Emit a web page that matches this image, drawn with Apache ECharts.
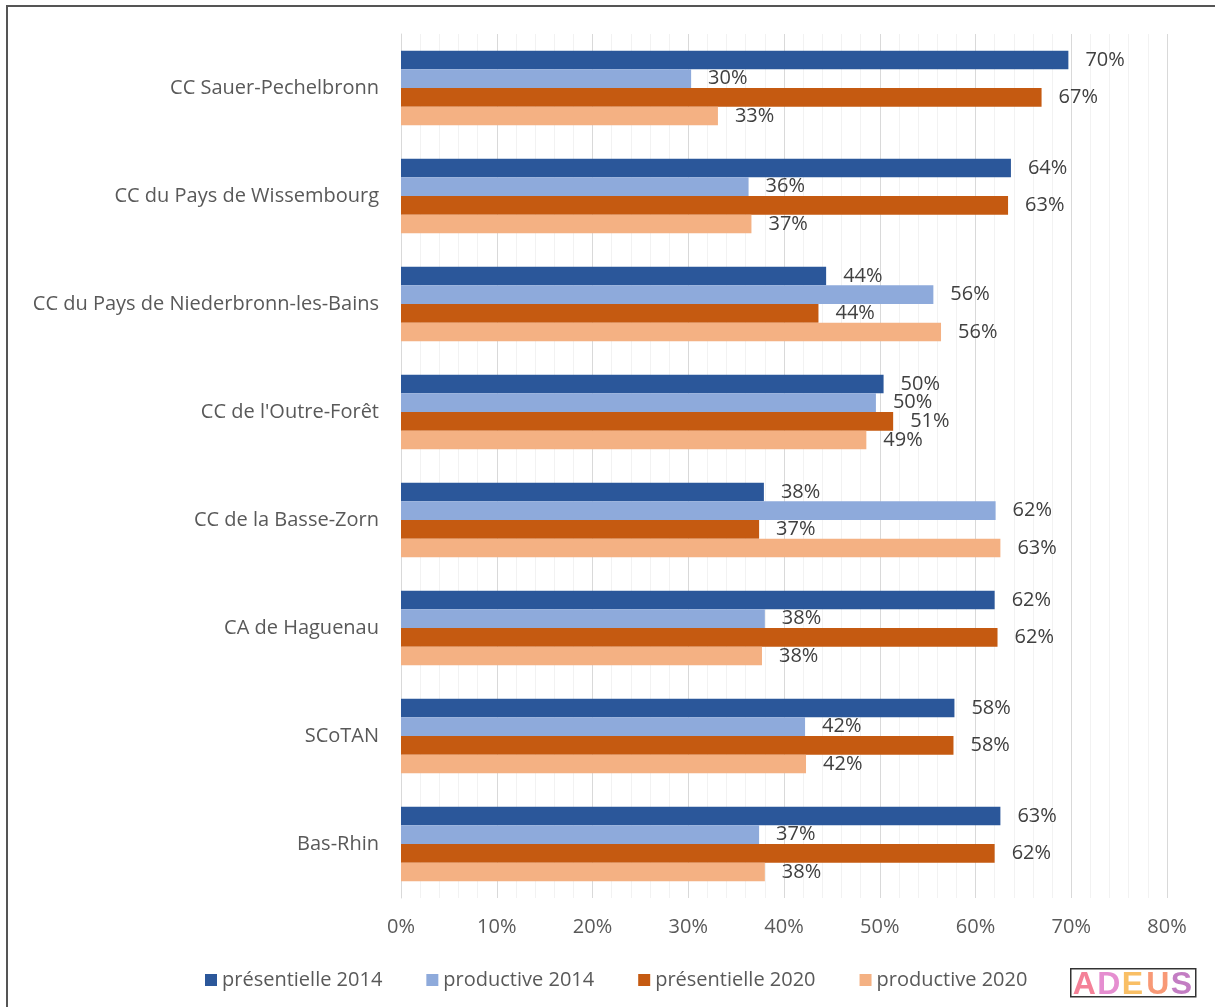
<!DOCTYPE html>
<html>
<head>
<meta charset="utf-8">
<script src="https://cdn.jsdelivr.net/npm/echarts@6/dist/echarts.min.js"></script>
<style>
  html, body { margin: 0; padding: 0; background: #fff; }
  #chart { width: 1215px; height: 1007px; }
</style>
</head>
<body>
<div id="chart"></div>
<script>
const categories = [
  "CC Sauer-Pechelbronn",
  "CC du Pays de Wissembourg",
  "CC du Pays de Niederbronn-les-Bains",
  "CC de l'Outre-Forêt",
  "CC de la Basse-Zorn",
  "CA de Haguenau",
  "SCoTAN",
  "Bas-Rhin"
];
const seriesNames = ["présentielle 2014", "productive 2014", "présentielle 2020", "productive 2020"];
const presentielle2014 = [69.7, 63.7, 44.4, 50.4, 37.9, 62.0, 57.8, 62.6];
const productive2014   = [30.3, 36.3, 55.6, 49.6, 62.1, 38.0, 42.2, 37.4];
const presentielle2020 = [66.9, 63.4, 43.6, 51.4, 37.4, 62.3, 57.7, 62.0];
const productive2020   = [33.1, 36.6, 56.4, 48.6, 62.6, 37.7, 42.3, 38.0];
const xTicks = [0, 10, 20, 30, 40, 50, 60, 70, 80];

const colors = ["#2b579a", "#8eaadb", "#c55a11", "#f4b183"];
const values = [presentielle2014, productive2014, presentielle2020, productive2020];
const FONT = "Open Sans";

const chart = echarts.init(document.getElementById('chart'), null, { renderer: 'canvas' });

const series = seriesNames.map((name, i) => ({
  name: name,
  type: 'bar',
  data: values[i],
  barGap: '0%',
  barCategoryGap: '31%',
  itemStyle: { color: colors[i] },
  label: {
    show: true,
    position: 'right',
    distance: 17,
    color: '#404040',
    fontSize: 20,
    fontFamily: FONT,
    formatter: p => Math.round(p.value) + '%'
  }
}));

const logoLetters = ['A', 'D', 'E', 'U', 'S'];
const logoColors = ['#f26b86', '#e07ac8', '#f8b44a', '#f7875e', '#b866b8'];

chart.setOption({
  animation: false,
  color: colors,
  grid: { left: 401, right: 48, top: 34, bottom: 109, containLabel: false },
  xAxis: {
    type: 'value',
    min: xTicks[0],
    max: xTicks[xTicks.length - 1],
    interval: 10,
    axisLine: { show: false },
    axisTick: { show: false },
    axisLabel: {
      formatter: '{value}%',
      color: '#595959',
      fontSize: 20,
      fontFamily: FONT,
      margin: 19
    },
    splitLine: { show: true, lineStyle: { color: '#d9d9d9', width: 1 } },
    minorTick: { show: false, splitNumber: 5 },
    minorSplitLine: { show: true, lineStyle: { color: '#f2f2f2', width: 1 } }
  },
  yAxis: {
    type: 'category',
    data: categories,
    inverse: true,
    axisLine: { show: true, lineStyle: { color: '#d9d9d9', width: 1 } },
    axisTick: { show: false },
    axisLabel: {
      color: '#595959',
      fontSize: 20,
      fontFamily: FONT,
      margin: 22
    }
  },
  legend: {
    data: seriesNames,
    left: 200,
    top: 965,
    icon: 'rect',
    itemWidth: 12,
    itemHeight: 12,
    itemGap: 44,
    textStyle: { color: '#595959', fontSize: 20, fontFamily: FONT, padding: [0, 0, 0, 0] }
  },
  series: series,
  graphic: [
    {
      type: 'rect',
      silent: true,
      z: 100,
      shape: { x: 7, y: 6, width: 1300, height: 1100 },
      style: { fill: 'none', stroke: '#555', lineWidth: 2 }
    },
    {
      type: 'group',
      left: 1070,
      top: 968,
      z: 100,
      children: [
        {
          type: 'rect',
          shape: { x: 0, y: 0, width: 125, height: 28 },
          style: { fill: '#fff', stroke: '#333', lineWidth: 1.5 }
        }
      ].concat(logoLetters.map((ch, i) => ({
        type: 'text',
        x: 2 + i * 24.5,
        y: 0,
        style: {
          text: ch,
          fill: logoColors[i],
          font: 'bold 32px "Liberation Sans"',
          textVerticalAlign: 'top',
          opacity: 0.85
        }
      })))
    }
  ]
});
</script>
</body>
</html>
